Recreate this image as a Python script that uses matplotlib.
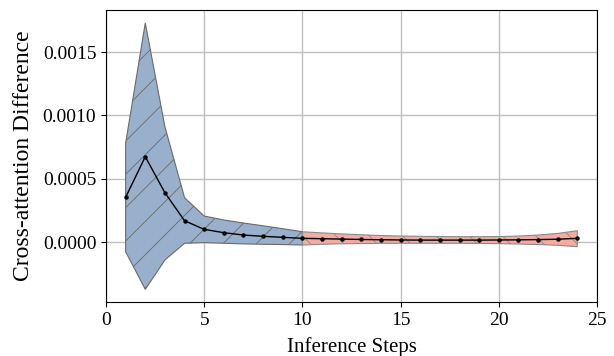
import numpy as np
import matplotlib.pyplot as plt

plt.rcParams['font.family'] = ['Liberation Serif', 'DejaVu Serif']
plt.rcParams['hatch.color'] = '#666666'
plt.rcParams['hatch.linewidth'] = 0.6

# dados
steps = np.arange(1, 25)
media = [0.000353, 0.000674, 0.000389, 0.000168, 0.000100, 0.0000735, 0.000055, 0.000045,
         0.000037, 0.000029, 0.000026, 0.000023, 0.000020, 0.000018, 0.000016, 0.000015,
         0.000015, 0.000015, 0.000015, 0.000016, 0.000017, 0.000019, 0.000022, 0.000029]
superior = [0.00078, 0.00173, 0.00091, 0.00035, 0.000205, 0.000174, 0.00015, 0.000128,
            0.000105, 0.000081, 0.000072, 0.000064, 0.000057, 0.000051, 0.000047, 0.000045,
            0.000043, 0.000042, 0.000042, 0.000043, 0.000047, 0.000055, 0.000068, 0.000089]
inferior = [-0.000077, -0.000374, -0.000142, -0.00001, -0.000005, -0.00001, -0.000015, -0.000018,
            -0.00002, -0.000024, -0.000018, -0.000014, -0.000012, -0.00001, -0.00001, -0.00001,
            -0.00001, -0.00001, -0.000011, -0.000013, -0.000016, -0.00002, -0.000026, -0.000037]
corte = 10  # passo onde muda a cor

fig = plt.figure(figsize=(6.14, 3.56), dpi=100)
ax = fig.add_axes([106/614, 54/356, 491/614, 292/356])

s = np.array(steps)
m1 = s <= corte
m2 = s >= corte
ax.fill_between(s[m1], np.array(inferior)[m1], np.array(superior)[m1],
                facecolor='#98b0cc', edgecolor='#6a6a6a', hatch='/', linewidth=0.8, zorder=2)
ax.fill_between(s[m2], np.array(inferior)[m2], np.array(superior)[m2],
                facecolor='#f4aca2', edgecolor='#8a8a8a', hatch='\\', linewidth=0.8, zorder=2)
ax.plot(steps, media, color='black', marker='o', markersize=2.2, linewidth=1, zorder=3)

ax.set_xlim(0, 25)
ax.set_ylim(-0.000474, 0.001833)
ax.set_xticks([0, 5, 10, 15, 20, 25])
ax.set_yticks([0, 0.0005, 0.0010, 0.0015])
ax.set_yticklabels(['0.0000', '0.0005', '0.0010', '0.0015'])
ax.tick_params(labelsize=14)
ax.grid(True, color='#c0c0c0', linewidth=1, zorder=0)
ax.set_axisbelow(True)
ax.set_xlabel('Inference Steps', fontsize=15, labelpad=6)
ax.set_ylabel('Cross-attention Difference', fontsize=17, labelpad=6)

plt.savefig('out.png', dpi=100)
